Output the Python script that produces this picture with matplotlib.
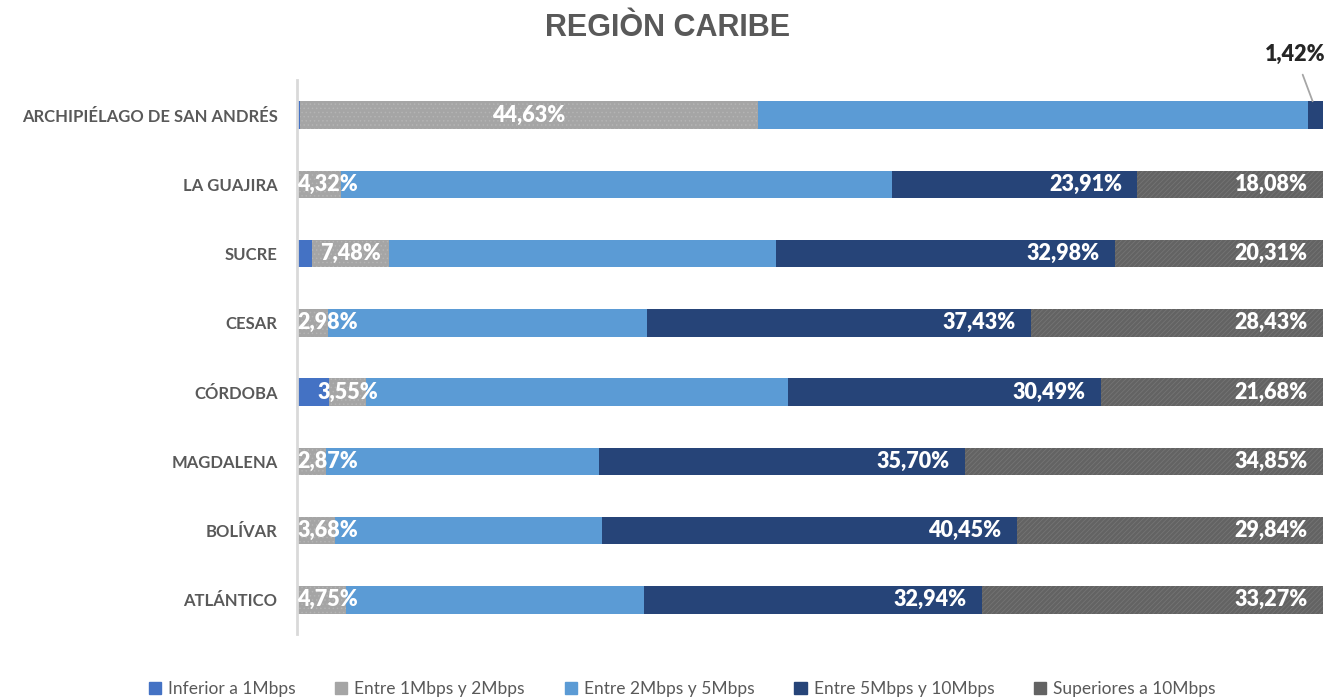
import matplotlib.pyplot as plt
import numpy as np
from matplotlib.patches import Patch

plt.rcParams['hatch.linewidth'] = 0.6

# datos (de arriba hacia abajo)
departamentos = ['ARCHIPIÉLAGO DE SAN ANDRÉS', 'LA GUAJIRA', 'SUCRE', 'CESAR',
                 'CÓRDOBA', 'MAGDALENA', 'BOLÍVAR', 'ATLÁNTICO']
inferior_1 = [0.30, 0.00, 1.46, 0.00, 3.15, 0.00, 0.00, 0.00]
entre_1_2 = [44.63, 4.32, 7.48, 2.98, 3.55, 2.87, 3.68, 4.75]
entre_2_5 = [53.65, 53.69, 37.77, 31.16, 41.13, 26.58, 26.03, 29.04]
entre_5_10 = [1.42, 23.91, 32.98, 37.43, 30.49, 35.70, 40.45, 32.94]
superior_10 = [0.00, 18.08, 20.31, 28.43, 21.68, 34.85, 29.84, 33.27]

series = ['Inferior a 1Mbps', 'Entre 1Mbps y 2Mbps', 'Entre 2Mbps y 5Mbps',
          'Entre 5Mbps y 10Mbps', 'Superiores a 10Mbps']
colores = ['#4472C4', '#A5A5A5', '#5B9BD5', '#264478', '#636363']
hatches = [None, '....', None, None, '///////']
hatch_col = [None, '#B4B4B4', None, None, '#747474']

fig = plt.figure(figsize=(13.35, 7), dpi=100)
ax = fig.add_axes([0.2225, 0.0936, 0.7685, 0.7914])

y = np.arange(len(departamentos))
datos = [inferior_1, entre_1_2, entre_2_5, entre_5_10, superior_10]
left = np.zeros(len(departamentos))
for i, vals in enumerate(datos):
    vals = np.array(vals)
    bars = ax.barh(y, vals, left=left, height=0.4, color=colores[i],
                   edgecolor=hatch_col[i] if hatches[i] else colores[i],
                   linewidth=0, hatch=hatches[i])
    for j, v in enumerate(vals):
        if i == 1:
            x = max(left[j] + v / 2, 3.0)
            ax.text(x, y[j], f'{v:.2f}%'.replace('.', ','), ha='center', va='center',
                    color='white', fontsize=15.5, fontweight='heavy', family='Lato')
        elif i in (3, 4) and v > 5:
            ax.text(left[j] + v - 1.5, y[j], f'{v:.2f}%'.replace('.', ','),
                    ha='right', va='center', color='white', fontsize=15.5,
                    fontweight='heavy', family='Lato')
    left += vals

# etiqueta externa de San Andrés
v = entre_5_10[0]
ax.annotate(f'{v:.2f}%'.replace('.', ','), xy=(100 - v / 2 - 0.3, 0 - 0.2),
            xytext=(97.3, -0.87), ha='center', va='center', fontsize=15.5,
            fontweight='heavy', family='Lato', color='#262626',
            arrowprops=dict(arrowstyle='-', color='#A6A6A6', lw=1.3,
                            shrinkA=5, shrinkB=0),
            annotation_clip=False)

ax.set_xlim(0, 100)
ax.set_ylim(len(departamentos) - 0.5, -0.5)
ax.set_yticks(y)
ax.set_yticklabels(departamentos, fontsize=12, fontweight='bold', color='#595959',
                   family='Lato')
ax.tick_params(axis='y', length=0, pad=14)
ax.set_xticks([])
for s in ['top', 'right', 'bottom']:
    ax.spines[s].set_visible(False)
ax.spines['left'].set_color('#D9D9D9')
ax.spines['left'].set_linewidth(2)

fig.text(0.5, 0.96, 'REGIÒN CARIBE', ha='center', va='center', fontsize=22,
         fontweight='bold', color='#595959', family='Liberation Sans')

handles = [Patch(facecolor=colores[k], edgecolor=colores[k]) for k in range(5)]
fig.legend(handles, series, loc='center', bbox_to_anchor=(0.511, 0.016), ncol=5,
           frameon=False, handlelength=0.7, handleheight=0.7, handletextpad=0.4,
           columnspacing=2.3, prop={'family': 'Lato', 'size': 12.5},
           labelcolor='#595959')

fig.savefig('out.png', dpi=100)
